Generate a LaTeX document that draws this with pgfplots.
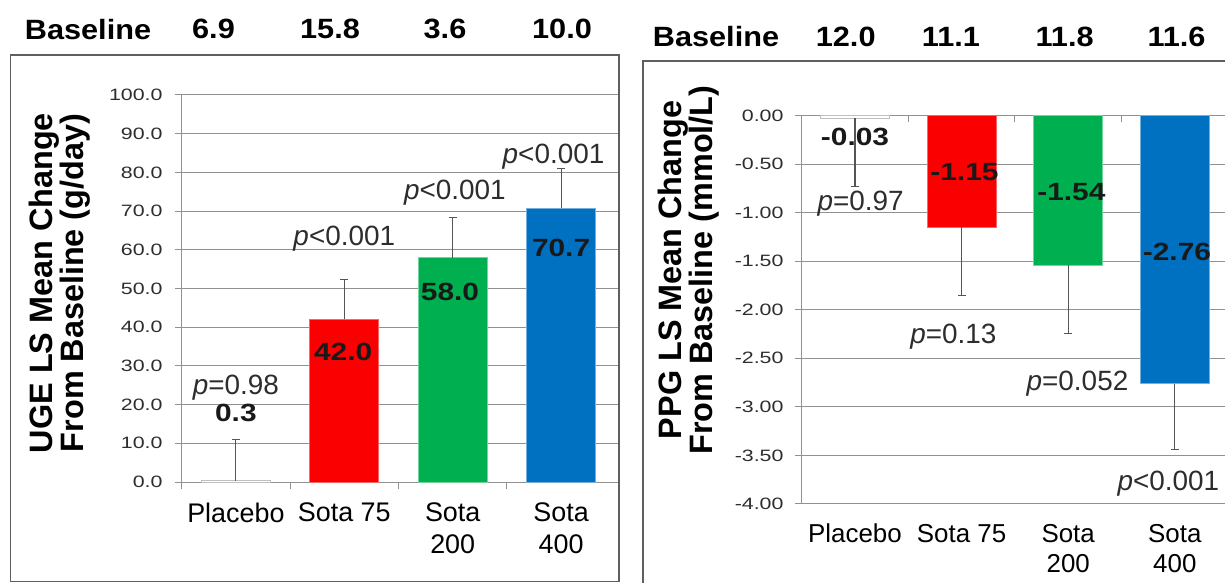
\documentclass[border=0pt]{standalone}
\usepackage{fontspec}
\setmainfont{Liberation Sans}
\newfontfamily\tickfont{Liberation Sans}[FakeStretch=1.3]
\newfontfamily\valfont{Liberation Sans}[FakeStretch=1.2]
\newfontfamily\basefont{Liberation Sans}[FakeStretch=1.1]
\usepackage{pgfplots}
\pgfplotsset{compat=1.18}

\definecolor{barred}{RGB}{250,0,0}
\definecolor{bargreen}{RGB}{0,176,80}
\definecolor{barblue}{RGB}{0,112,192}
\definecolor{gridgray}{RGB}{145,145,145}
\definecolor{framegray}{RGB}{95,95,95}
\definecolor{errgray}{RGB}{85,85,85}
\definecolor{txtgray}{RGB}{45,45,45}

\newcommand\tickfs{\tickfont\fontsize{16.5pt}{16.5pt}\selectfont}
\newcommand\valfs{\valfont\bfseries\fontsize{25pt}{25pt}\selectfont}
\newcommand\pfs{\fontsize{28pt}{28pt}\selectfont}
\newcommand\xlabfs{\fontsize{27pt}{32pt}\selectfont}
\newcommand\xlabrfs{\fontsize{26pt}{30pt}\selectfont}
\newcommand\ylabfs{\bfseries\fontsize{32.5pt}{29.5pt}\selectfont}
\newcommand\basefs{\basefont\bfseries\fontsize{28pt}{28pt}\selectfont}

\pgfplotsset{
  panel/.style={
    scale only axis, anchor=south west, clip=false,
    axis y line*=left,
    axis line style={gridgray, line width=1bp},
    ymajorgrids, grid style={gridgray, line width=1bp},
    tick style={gridgray, line width=1bp},
    major tick length=7bp, tick align=outside,
    xticklabels={},
    yticklabel style={font=\tickfs, text=txtgray},
  },
  bar/.style={ybar, bar width=69bp, line width=1bp,
    /pgfplots/error bars/y explicit,
    /pgfplots/error bars/error mark=|,
    /pgfplots/error bars/error bar style={errgray, line width=1.1bp},
    /pgfplots/error bars/error mark options={errgray, line width=1.1bp, mark size=4bp}},
}

\begin{document}
\begin{tikzpicture}
\path[use as bounding box] (0,0) rectangle (1225bp,583bp);

% ---------- UGE panel ----------
\begin{axis}[panel,
  at={(181.7bp,101bp)}, width=436.3bp, height=387bp,
  xmin=-0.5, xmax=3.525, ymin=0, ymax=100,
  axis x line*=bottom,
  xtick={-0.5,0.5,1.5,2.5},
  ytick={0,10,...,100},
  yticklabel style={xshift=-8.7bp,
    /pgf/number format/fixed, /pgf/number format/fixed zerofill,
    /pgf/number format/precision=1, /pgf/number format/assume math mode=true},
]
\addplot[bar, fill=white, draw=black!25, error bars/y dir=plus]
  coordinates {(0,0.3) +- (0,10.7)};
\addplot[bar, fill=barred, draw=barred!60!white, error bars/y dir=plus]
  coordinates {(1,42.0) +- (0,10.4)};
\addplot[bar, fill=bargreen, draw=bargreen!55!white, error bars/y dir=plus]
  coordinates {(2,58.0) +- (0,10.4)};
\addplot[bar, fill=barblue, draw=barblue!55!white, error bars/y dir=plus]
  coordinates {(3,70.7) +- (0,10.4)};

\node[font=\valfs, text=black!90] at (axis cs:0,17.75) {0.3};
\node[font=\valfs, text=black!90] at (axis cs:0.99,33.7) {42.0};
\node[font=\valfs, text=black!90] at (axis cs:1.975,49.2) {58.0};
\node[font=\valfs, text=black!90] at (axis cs:3.0,60.5) {70.7};

\node[font=\pfs, text=txtgray, anchor=base] at (axis cs:0.0,22.5) {\textit{p}=0.98};
\node[font=\pfs, text=txtgray, anchor=base] at (axis cs:1.0,61.2) {\textit{p}<0.001};
\node[font=\pfs, text=txtgray, anchor=base] at (axis cs:2.02,72.9) {\textit{p}<0.001};
\node[font=\pfs, text=txtgray, anchor=base] at (axis cs:2.93,82.4) {\textit{p}<0.001};

\node[font=\xlabfs, anchor=north, align=center, inner sep=0pt, yshift=-21bp]
  at (axis cs:0,0) {Placebo};
\node[font=\xlabfs, anchor=north, align=center, inner sep=0pt, yshift=-21bp]
  at (axis cs:1,0) {Sota 75};
\node[font=\xlabfs, anchor=north, align=center, inner sep=0pt, yshift=-21bp]
  at (axis cs:2,0) {Sota\\200};
\node[font=\xlabfs, anchor=north, align=center, inner sep=0pt, yshift=-21bp]
  at (axis cs:3,0) {Sota\\400};
\end{axis}

% ---------- PPG panel ----------
\begin{axis}[panel,
  at={(801.7bp,79bp)}, width=423.3bp, height=388.5bp,
  xmin=-0.5, xmax=3.471, ymin=-4, ymax=0,
  axis x line*=top,
  xtick={0.5,1.5,2.5},
  xtick style={yshift=-7bp},
  ytick={-4,-3.5,...,0},
  yticklabel style={xshift=-7.7bp,
    /pgf/number format/fixed, /pgf/number format/fixed zerofill,
    /pgf/number format/precision=2, /pgf/number format/assume math mode=true},
]
\addplot[bar, fill=white, draw=black!25, error bars/y dir=minus]
  coordinates {(0,-0.03) +- (0,0.70)};
\addplot[bar, fill=barred, draw=barred!60!white, error bars/y dir=minus]
  coordinates {(1,-1.15) +- (0,0.70)};
\addplot[bar, fill=bargreen, draw=bargreen!55!white, error bars/y dir=minus]
  coordinates {(2,-1.54) +- (0,0.70)};
\addplot[bar, fill=barblue, draw=barblue!55!white, error bars/y dir=minus]
  coordinates {(3,-2.76) +- (0,0.68)};

\node[font=\valfs, text=black!90] at (axis cs:0,-0.218) {-0.03};
\node[font=\valfs, text=black!90] at (axis cs:1.027,-0.579) {-1.15};
\node[font=\valfs, text=black!90] at (axis cs:2.03,-0.785) {-1.54};
\node[font=\valfs, text=black!90] at (axis cs:3.02,-1.403) {-2.76};

\node[font=\pfs, text=txtgray, anchor=base] at (axis cs:0.053,-0.973) {\textit{p}=0.97};
\node[font=\pfs, text=txtgray, anchor=base] at (axis cs:0.923,-2.346) {\textit{p}=0.13};
\node[font=\pfs, text=txtgray, anchor=base] at (axis cs:2.087,-2.827) {\textit{p}=0.052};
\node[font=\pfs, text=txtgray, anchor=base] at (axis cs:2.94,-3.857) {\textit{p}<0.001};

\node[font=\xlabrfs, anchor=north, align=center, inner sep=0pt, yshift=-20bp]
  at (axis cs:0,-4) {Placebo};
\node[font=\xlabrfs, anchor=north, align=center, inner sep=0pt, yshift=-20bp]
  at (axis cs:1,-4) {Sota 75};
\node[font=\xlabrfs, anchor=north, align=center, inner sep=0pt, yshift=-20bp]
  at (axis cs:2,-4) {Sota\\200};
\node[font=\xlabrfs, anchor=north, align=center, inner sep=0pt, yshift=-20bp]
  at (axis cs:3,-4) {Sota\\400};
\end{axis}

% panel frames
\draw[framegray, line width=1.5bp] (10.5bp,1.5bp) rectangle (619bp,528bp);
\draw[framegray, line width=1.5bp] (643bp,-2bp) -- (643bp,522bp) -- (1228bp,522bp);

% axis titles
\node[font=\ylabfs, rotate=90, align=center] at (59.5bp,300bp)
  {UGE LS Mean Change\\From Baseline (g/day)};
\node[font=\ylabfs, rotate=90, align=center] at (688.5bp,313bp)
  {PPG LS Mean Change\\From Baseline (mmol/L)};

% baseline rows
\node[font=\basefs] at (88bp,553.7bp) {Baseline};
\node[font=\basefs] at (213.5bp,553.7bp) {6.9};
\node[font=\basefs] at (330bp,553.7bp) {15.8};
\node[font=\basefs] at (445bp,553.7bp) {3.6};
\node[font=\basefs] at (562bp,553.7bp) {10.0};

\node[font=\basefs] at (716bp,546.3bp) {Baseline};
\node[font=\basefs] at (845.7bp,546.3bp) {12.0};
\node[font=\basefs] at (951bp,546.3bp) {11.1};
\node[font=\basefs] at (1064.6bp,546.3bp) {11.8};
\node[font=\basefs] at (1176.5bp,546.3bp) {11.6};
\end{tikzpicture}
\end{document}
